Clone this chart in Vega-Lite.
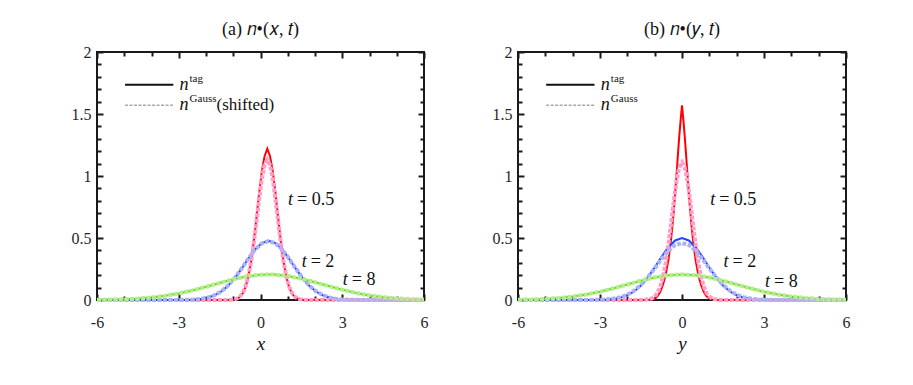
{
"$schema": "https://vega.github.io/schema/vega-lite/v6.json",
"padding": {"left": 70, "top": 20, "right": 5, "bottom": 5},
"spacing": 58,
"config": {"font": "Times New Roman, Liberation Serif, serif", "view": {"stroke": "#1a1a1a", "strokeWidth": 2},
 "title": {"font": "Times New Roman, Liberation Serif, serif", "fontWeight": "normal", "fontSize": 18, "color": "#111111", "offset": 5},
 "axis": {"labelFont": "Times New Roman, Liberation Serif, serif", "titleFont": "Times New Roman, Liberation Serif, serif"},
 "text": {"font": "Times New Roman, Liberation Serif, serif"}},
"datasets": {
"curves": [
{"p":"a","c":"r","x":-6,"y":0},{"p":"a","c":"r","x":-1.15,"y":0.001},{"p":"a","c":"r","x":-0.95,"y":0.005},{"p":"a","c":"r","x":-0.85,"y":0.012},{"p":"a","c":"r","x":-0.75,"y":0.026},{"p":"a","c":"r","x":-0.65,"y":0.054},{"p":"a","c":"r","x":-0.55,"y":0.103},{"p":"a","c":"r","x":-0.45,"y":0.184},{"p":"a","c":"r","x":-0.35,"y":0.304},{"p":"a","c":"r","x":-0.25,"y":0.465},{"p":"a","c":"r","x":-0.15,"y":0.658},{"p":"a","c":"r","x":-0.05,"y":0.862},{"p":"a","c":"r","x":0.05,"y":1.04},{"p":"a","c":"r","x":0.15,"y":1.16},{"p":"a","c":"r","x":0.25,"y":1.22},{"p":"a","c":"r","x":0.35,"y":1.16},{"p":"a","c":"r","x":0.45,"y":1.04},{"p":"a","c":"r","x":0.55,"y":0.862},{"p":"a","c":"r","x":0.65,"y":0.658},{"p":"a","c":"r","x":0.75,"y":0.465},{"p":"a","c":"r","x":0.85,"y":0.304},{"p":"a","c":"r","x":0.95,"y":0.184},{"p":"a","c":"r","x":1.05,"y":0.103},{"p":"a","c":"r","x":1.15,"y":0.054},{"p":"a","c":"r","x":1.25,"y":0.026},{"p":"a","c":"r","x":1.35,"y":0.012},{"p":"a","c":"r","x":1.45,"y":0.005},{"p":"a","c":"r","x":1.65,"y":0.001},{"p":"a","c":"r","x":6,"y":0},
{"p":"a","c":"R","x":-6,"y":0},{"p":"a","c":"R","x":-1.15,"y":0.0009},{"p":"a","c":"R","x":-0.95,"y":0.0059},{"p":"a","c":"R","x":-0.85,"y":0.0136},{"p":"a","c":"R","x":-0.75,"y":0.0293},{"p":"a","c":"R","x":-0.65,"y":0.0586},{"p":"a","c":"R","x":-0.55,"y":0.109},{"p":"a","c":"R","x":-0.45,"y":0.189},{"p":"a","c":"R","x":-0.35,"y":0.303},{"p":"a","c":"R","x":-0.25,"y":0.453},{"p":"a","c":"R","x":-0.15,"y":0.63},{"p":"a","c":"R","x":-0.05,"y":0.813},{"p":"a","c":"R","x":0.05,"y":0.976},{"p":"a","c":"R","x":0.15,"y":1.089},{"p":"a","c":"R","x":0.25,"y":1.13},{"p":"a","c":"R","x":0.35,"y":1.089},{"p":"a","c":"R","x":0.45,"y":0.976},{"p":"a","c":"R","x":0.55,"y":0.813},{"p":"a","c":"R","x":0.65,"y":0.63},{"p":"a","c":"R","x":0.75,"y":0.453},{"p":"a","c":"R","x":0.85,"y":0.303},{"p":"a","c":"R","x":0.95,"y":0.189},{"p":"a","c":"R","x":1.05,"y":0.109},{"p":"a","c":"R","x":1.15,"y":0.0586},{"p":"a","c":"R","x":1.25,"y":0.0293},{"p":"a","c":"R","x":1.35,"y":0.0136},{"p":"a","c":"R","x":1.45,"y":0.0059},{"p":"a","c":"R","x":1.65,"y":0.0009},{"p":"a","c":"R","x":6,"y":0},
{"p":"a","c":"b","x":-6,"y":0},{"p":"a","c":"b","x":-3.2,"y":0.0002},{"p":"a","c":"b","x":-2.7,"y":0.0014},{"p":"a","c":"b","x":-2.45,"y":0.0036},{"p":"a","c":"b","x":-2.2,"y":0.0084},{"p":"a","c":"b","x":-1.95,"y":0.0182},{"p":"a","c":"b","x":-1.7,"y":0.0361},{"p":"a","c":"b","x":-1.45,"y":0.0662},{"p":"a","c":"b","x":-1.2,"y":0.112},{"p":"a","c":"b","x":-0.95,"y":0.174},{"p":"a","c":"b","x":-0.7,"y":0.2505},{"p":"a","c":"b","x":-0.45,"y":0.3325},{"p":"a","c":"b","x":-0.2,"y":0.407},{"p":"a","c":"b","x":0.05,"y":0.459},{"p":"a","c":"b","x":0.3,"y":0.478},{"p":"a","c":"b","x":0.55,"y":0.459},{"p":"a","c":"b","x":0.8,"y":0.407},{"p":"a","c":"b","x":1.05,"y":0.3325},{"p":"a","c":"b","x":1.3,"y":0.2505},{"p":"a","c":"b","x":1.55,"y":0.174},{"p":"a","c":"b","x":1.8,"y":0.112},{"p":"a","c":"b","x":2.05,"y":0.0662},{"p":"a","c":"b","x":2.3,"y":0.0361},{"p":"a","c":"b","x":2.55,"y":0.0182},{"p":"a","c":"b","x":2.8,"y":0.0084},{"p":"a","c":"b","x":3.05,"y":0.0036},{"p":"a","c":"b","x":3.3,"y":0.0014},{"p":"a","c":"b","x":3.8,"y":0.0002},{"p":"a","c":"b","x":6,"y":0},
{"p":"a","c":"B","x":-6,"y":0},{"p":"a","c":"B","x":-3.2,"y":0.0002},{"p":"a","c":"B","x":-2.7,"y":0.0016},{"p":"a","c":"B","x":-2.45,"y":0.0039},{"p":"a","c":"B","x":-2.2,"y":0.0089},{"p":"a","c":"B","x":-1.95,"y":0.019},{"p":"a","c":"B","x":-1.7,"y":0.0375},{"p":"a","c":"B","x":-1.45,"y":0.068},{"p":"a","c":"B","x":-1.2,"y":0.114},{"p":"a","c":"B","x":-0.95,"y":0.176},{"p":"a","c":"B","x":-0.7,"y":0.252},{"p":"a","c":"B","x":-0.45,"y":0.333},{"p":"a","c":"B","x":-0.2,"y":0.406},{"p":"a","c":"B","x":0.05,"y":0.457},{"p":"a","c":"B","x":0.3,"y":0.475},{"p":"a","c":"B","x":0.55,"y":0.457},{"p":"a","c":"B","x":0.8,"y":0.406},{"p":"a","c":"B","x":1.05,"y":0.333},{"p":"a","c":"B","x":1.3,"y":0.252},{"p":"a","c":"B","x":1.55,"y":0.176},{"p":"a","c":"B","x":1.8,"y":0.114},{"p":"a","c":"B","x":2.05,"y":0.068},{"p":"a","c":"B","x":2.3,"y":0.0375},{"p":"a","c":"B","x":2.55,"y":0.019},{"p":"a","c":"B","x":2.8,"y":0.0089},{"p":"a","c":"B","x":3.05,"y":0.0039},{"p":"a","c":"B","x":3.3,"y":0.0016},{"p":"a","c":"B","x":3.8,"y":0.0002},{"p":"a","c":"B","x":6,"y":0},
{"p":"a","c":"g","x":-6,"y":0.0014},{"p":"a","c":"g","x":-5.5,"y":0.0031},{"p":"a","c":"g","x":-5,"y":0.0062},{"p":"a","c":"g","x":-4.5,"y":0.0116},{"p":"a","c":"g","x":-4,"y":0.0204},{"p":"a","c":"g","x":-3.5,"y":0.0339},{"p":"a","c":"g","x":-3,"y":0.0528},{"p":"a","c":"g","x":-2.5,"y":0.0773},{"p":"a","c":"g","x":-2,"y":0.1064},{"p":"a","c":"g","x":-1.5,"y":0.1374},{"p":"a","c":"g","x":-1,"y":0.1668},{"p":"a","c":"g","x":-0.5,"y":0.1902},{"p":"a","c":"g","x":0,"y":0.2037},{"p":"a","c":"g","x":0.3,"y":0.206},{"p":"a","c":"g","x":0.5,"y":0.205},{"p":"a","c":"g","x":1,"y":0.1938},{"p":"a","c":"g","x":1.5,"y":0.1721},{"p":"a","c":"g","x":2,"y":0.1435},{"p":"a","c":"g","x":2.5,"y":0.1125},{"p":"a","c":"g","x":3,"y":0.0828},{"p":"a","c":"g","x":3.5,"y":0.0573},{"p":"a","c":"g","x":4,"y":0.0372},{"p":"a","c":"g","x":4.5,"y":0.0227},{"p":"a","c":"g","x":5,"y":0.013},{"p":"a","c":"g","x":5.5,"y":0.007},{"p":"a","c":"g","x":6,"y":0.0035},
{"p":"a","c":"G","x":-6,"y":0.0014},{"p":"a","c":"G","x":-5.5,"y":0.0031},{"p":"a","c":"G","x":-5,"y":0.0062},{"p":"a","c":"G","x":-4.5,"y":0.0116},{"p":"a","c":"G","x":-4,"y":0.0204},{"p":"a","c":"G","x":-3.5,"y":0.0339},{"p":"a","c":"G","x":-3,"y":0.0528},{"p":"a","c":"G","x":-2.5,"y":0.0773},{"p":"a","c":"G","x":-2,"y":0.1064},{"p":"a","c":"G","x":-1.5,"y":0.1374},{"p":"a","c":"G","x":-1,"y":0.1668},{"p":"a","c":"G","x":-0.5,"y":0.1902},{"p":"a","c":"G","x":0,"y":0.2037},{"p":"a","c":"G","x":0.3,"y":0.206},{"p":"a","c":"G","x":0.5,"y":0.205},{"p":"a","c":"G","x":1,"y":0.1938},{"p":"a","c":"G","x":1.5,"y":0.1721},{"p":"a","c":"G","x":2,"y":0.1435},{"p":"a","c":"G","x":2.5,"y":0.1125},{"p":"a","c":"G","x":3,"y":0.0828},{"p":"a","c":"G","x":3.5,"y":0.0573},{"p":"a","c":"G","x":4,"y":0.0372},{"p":"a","c":"G","x":4.5,"y":0.0227},{"p":"a","c":"G","x":5,"y":0.013},{"p":"a","c":"G","x":5.5,"y":0.007},{"p":"a","c":"G","x":6,"y":0.0035},
{"p":"b","c":"r","x":-6,"y":0},{"p":"b","c":"r","x":-1.3,"y":0.001},{"p":"b","c":"r","x":-1.1,"y":0.005},{"p":"b","c":"r","x":-1,"y":0.013},{"p":"b","c":"r","x":-0.9,"y":0.03},{"p":"b","c":"r","x":-0.8,"y":0.065},{"p":"b","c":"r","x":-0.7,"y":0.12},{"p":"b","c":"r","x":-0.6,"y":0.2},{"p":"b","c":"r","x":-0.5,"y":0.32},{"p":"b","c":"r","x":-0.45,"y":0.4},{"p":"b","c":"r","x":-0.4,"y":0.49},{"p":"b","c":"r","x":-0.35,"y":0.6},{"p":"b","c":"r","x":-0.3,"y":0.72},{"p":"b","c":"r","x":-0.25,"y":0.86},{"p":"b","c":"r","x":-0.2,"y":1.01},{"p":"b","c":"r","x":-0.15,"y":1.17},{"p":"b","c":"r","x":-0.1,"y":1.32},{"p":"b","c":"r","x":-0.05,"y":1.45},{"p":"b","c":"r","x":0,"y":1.57},{"p":"b","c":"r","x":0.05,"y":1.45},{"p":"b","c":"r","x":0.1,"y":1.32},{"p":"b","c":"r","x":0.15,"y":1.17},{"p":"b","c":"r","x":0.2,"y":1.01},{"p":"b","c":"r","x":0.25,"y":0.86},{"p":"b","c":"r","x":0.3,"y":0.72},{"p":"b","c":"r","x":0.35,"y":0.6},{"p":"b","c":"r","x":0.4,"y":0.49},{"p":"b","c":"r","x":0.45,"y":0.4},{"p":"b","c":"r","x":0.5,"y":0.32},{"p":"b","c":"r","x":0.6,"y":0.2},{"p":"b","c":"r","x":0.7,"y":0.12},{"p":"b","c":"r","x":0.8,"y":0.065},{"p":"b","c":"r","x":0.9,"y":0.03},{"p":"b","c":"r","x":1,"y":0.013},{"p":"b","c":"r","x":1.1,"y":0.005},{"p":"b","c":"r","x":1.3,"y":0.001},{"p":"b","c":"r","x":6,"y":0},
{"p":"b","c":"R","x":-6,"y":0},{"p":"b","c":"R","x":-1.4,"y":0.0009},{"p":"b","c":"R","x":-1.2,"y":0.0058},{"p":"b","c":"R","x":-1.1,"y":0.0134},{"p":"b","c":"R","x":-1,"y":0.0288},{"p":"b","c":"R","x":-0.9,"y":0.0576},{"p":"b","c":"R","x":-0.8,"y":0.107},{"p":"b","c":"R","x":-0.7,"y":0.185},{"p":"b","c":"R","x":-0.6,"y":0.298},{"p":"b","c":"R","x":-0.5,"y":0.445},{"p":"b","c":"R","x":-0.4,"y":0.619},{"p":"b","c":"R","x":-0.3,"y":0.799},{"p":"b","c":"R","x":-0.2,"y":0.959},{"p":"b","c":"R","x":-0.1,"y":1.07},{"p":"b","c":"R","x":0,"y":1.11},{"p":"b","c":"R","x":0.1,"y":1.07},{"p":"b","c":"R","x":0.2,"y":0.959},{"p":"b","c":"R","x":0.3,"y":0.799},{"p":"b","c":"R","x":0.4,"y":0.619},{"p":"b","c":"R","x":0.5,"y":0.445},{"p":"b","c":"R","x":0.6,"y":0.298},{"p":"b","c":"R","x":0.7,"y":0.185},{"p":"b","c":"R","x":0.8,"y":0.107},{"p":"b","c":"R","x":0.9,"y":0.0576},{"p":"b","c":"R","x":1,"y":0.0288},{"p":"b","c":"R","x":1.1,"y":0.0134},{"p":"b","c":"R","x":1.2,"y":0.0058},{"p":"b","c":"R","x":1.4,"y":0.0009},{"p":"b","c":"R","x":6,"y":0},
{"p":"b","c":"b","x":-6,"y":0},{"p":"b","c":"b","x":-3.5,"y":0.0002},{"p":"b","c":"b","x":-3,"y":0.0015},{"p":"b","c":"b","x":-2.75,"y":0.0038},{"p":"b","c":"b","x":-2.5,"y":0.0088},{"p":"b","c":"b","x":-2.25,"y":0.019},{"p":"b","c":"b","x":-2,"y":0.0378},{"p":"b","c":"b","x":-1.75,"y":0.0692},{"p":"b","c":"b","x":-1.5,"y":0.117},{"p":"b","c":"b","x":-1.25,"y":0.182},{"p":"b","c":"b","x":-1,"y":0.262},{"p":"b","c":"b","x":-0.75,"y":0.348},{"p":"b","c":"b","x":-0.5,"y":0.426},{"p":"b","c":"b","x":-0.25,"y":0.48},{"p":"b","c":"b","x":0,"y":0.5},{"p":"b","c":"b","x":0.25,"y":0.48},{"p":"b","c":"b","x":0.5,"y":0.426},{"p":"b","c":"b","x":0.75,"y":0.348},{"p":"b","c":"b","x":1,"y":0.262},{"p":"b","c":"b","x":1.25,"y":0.182},{"p":"b","c":"b","x":1.5,"y":0.117},{"p":"b","c":"b","x":1.75,"y":0.0692},{"p":"b","c":"b","x":2,"y":0.0378},{"p":"b","c":"b","x":2.25,"y":0.019},{"p":"b","c":"b","x":2.5,"y":0.0088},{"p":"b","c":"b","x":2.75,"y":0.0038},{"p":"b","c":"b","x":3,"y":0.0015},{"p":"b","c":"b","x":3.5,"y":0.0002},{"p":"b","c":"b","x":6,"y":0},
{"p":"b","c":"B","x":-6,"y":0},{"p":"b","c":"B","x":-3.5,"y":0.0003},{"p":"b","c":"B","x":-3,"y":0.0023},{"p":"b","c":"B","x":-2.75,"y":0.0053},{"p":"b","c":"B","x":-2.5,"y":0.0115},{"p":"b","c":"B","x":-2.25,"y":0.0231},{"p":"b","c":"B","x":-2,"y":0.0433},{"p":"b","c":"B","x":-1.75,"y":0.0754},{"p":"b","c":"B","x":-1.5,"y":0.122},{"p":"b","c":"B","x":-1.25,"y":0.183},{"p":"b","c":"B","x":-1,"y":0.255},{"p":"b","c":"B","x":-0.75,"y":0.33},{"p":"b","c":"B","x":-0.5,"y":0.397},{"p":"b","c":"B","x":-0.25,"y":0.443},{"p":"b","c":"B","x":0,"y":0.46},{"p":"b","c":"B","x":0.25,"y":0.443},{"p":"b","c":"B","x":0.5,"y":0.397},{"p":"b","c":"B","x":0.75,"y":0.33},{"p":"b","c":"B","x":1,"y":0.255},{"p":"b","c":"B","x":1.25,"y":0.183},{"p":"b","c":"B","x":1.5,"y":0.122},{"p":"b","c":"B","x":1.75,"y":0.0754},{"p":"b","c":"B","x":2,"y":0.0433},{"p":"b","c":"B","x":2.25,"y":0.0231},{"p":"b","c":"B","x":2.5,"y":0.0115},{"p":"b","c":"B","x":2.75,"y":0.0053},{"p":"b","c":"B","x":3,"y":0.0023},{"p":"b","c":"B","x":3.5,"y":0.0003},{"p":"b","c":"B","x":6,"y":0},
{"p":"b","c":"g","x":-6,"y":0.0023},{"p":"b","c":"g","x":-5.5,"y":0.0047},{"p":"b","c":"g","x":-5,"y":0.009},{"p":"b","c":"g","x":-4.5,"y":0.0164},{"p":"b","c":"g","x":-4,"y":0.0279},{"p":"b","c":"g","x":-3.5,"y":0.0446},{"p":"b","c":"g","x":-3,"y":0.0669},{"p":"b","c":"g","x":-2.5,"y":0.0943},{"p":"b","c":"g","x":-2,"y":0.1249},{"p":"b","c":"g","x":-1.5,"y":0.1555},{"p":"b","c":"g","x":-1,"y":0.1818},{"p":"b","c":"g","x":-0.5,"y":0.1997},{"p":"b","c":"g","x":0,"y":0.206},{"p":"b","c":"g","x":0.5,"y":0.1997},{"p":"b","c":"g","x":1,"y":0.1818},{"p":"b","c":"g","x":1.5,"y":0.1555},{"p":"b","c":"g","x":2,"y":0.1249},{"p":"b","c":"g","x":2.5,"y":0.0943},{"p":"b","c":"g","x":3,"y":0.0669},{"p":"b","c":"g","x":3.5,"y":0.0446},{"p":"b","c":"g","x":4,"y":0.0279},{"p":"b","c":"g","x":4.5,"y":0.0164},{"p":"b","c":"g","x":5,"y":0.009},{"p":"b","c":"g","x":5.5,"y":0.0047},{"p":"b","c":"g","x":6,"y":0.0023},
{"p":"b","c":"G","x":-6,"y":0.0023},{"p":"b","c":"G","x":-5.5,"y":0.0047},{"p":"b","c":"G","x":-5,"y":0.009},{"p":"b","c":"G","x":-4.5,"y":0.0164},{"p":"b","c":"G","x":-4,"y":0.0279},{"p":"b","c":"G","x":-3.5,"y":0.0446},{"p":"b","c":"G","x":-3,"y":0.0669},{"p":"b","c":"G","x":-2.5,"y":0.0943},{"p":"b","c":"G","x":-2,"y":0.1249},{"p":"b","c":"G","x":-1.5,"y":0.1555},{"p":"b","c":"G","x":-1,"y":0.1818},{"p":"b","c":"G","x":-0.5,"y":0.1997},{"p":"b","c":"G","x":0,"y":0.206},{"p":"b","c":"G","x":0.5,"y":0.1997},{"p":"b","c":"G","x":1,"y":0.1818},{"p":"b","c":"G","x":1.5,"y":0.1555},{"p":"b","c":"G","x":2,"y":0.1249},{"p":"b","c":"G","x":2.5,"y":0.0943},{"p":"b","c":"G","x":3,"y":0.0669},{"p":"b","c":"G","x":3.5,"y":0.0446},{"p":"b","c":"G","x":4,"y":0.0279},{"p":"b","c":"G","x":4.5,"y":0.0164},{"p":"b","c":"G","x":5,"y":0.009},{"p":"b","c":"G","x":5.5,"y":0.0047},{"p":"b","c":"G","x":6,"y":0.0023}
],
"leg": [
{"k":"tag","x":-4.97,"y":1.735},{"k":"tag","x":-3.2,"y":1.735},
{"k":"gau","x":-4.97,"y":1.57},{"k":"gau","x":-3.2,"y":1.57}
],
"legt": [
{"p":"a","x":-2.97,"y":1.735,"sup":"tag","tail":""},
{"p":"a","x":-2.97,"y":1.57,"sup":"Gauss","tail":"(shifted)"},
{"p":"b","x":-2.97,"y":1.735,"sup":"tag","tail":""},
{"p":"b","x":-2.97,"y":1.57,"sup":"Gauss","tail":""}
],
"ann": [
{"p":"a","x":1.01,"y":0.805,"r":"= 0.5"},
{"p":"a","x":1.51,"y":0.308,"r":"= 2"},
{"p":"a","x":3.02,"y":0.161,"r":"= 8"},
{"p":"b","x":1.03,"y":0.805,"r":"= 0.5"},
{"p":"b","x":1.52,"y":0.308,"r":"= 2"},
{"p":"b","x":3.04,"y":0.147,"r":"= 8"}
]
},
"hconcat": [
{
"width": 327, "height": 248,
"title": {"text": "(a) 𝑛•(𝑥, 𝑡)"},
"resolve": {"axis": {"x": "independent", "y": "independent"}},
"layer": [
{"data": {"name": "curves"}, "transform": [{"filter": "datum.p == 'a'"}, {"filter": {"field": "c", "oneOf": ["r", "b", "g"]}}],
 "mark": {"type": "line", "strokeWidth": 2},
 "encoding": {
  "x": {"field": "x", "type": "quantitative", "scale": {"domain": [-6, 6], "nice": false, "zero": false},
   "axis": {"orient": "bottom", "values": [-6,-5,-4,-3,-2,-1,0,1,2,3,4,5,6], "labelExpr": "datum.value % 3 === 0 ? '' + datum.value : ''", "labelFlush": false, "labelOverlap": false, "labelFontSize": 16, "labelColor": "#262626", "labelPadding": 20, "domain": false, "grid": false, "tickColor": "#1a1a1a", "tickWidth": 2, "tickSize": {"condition": {"test": "datum.value % 3 === 0", "value": -6}, "value": -4}, "title": "x", "titleFontSize": 19, "titleFontStyle": "italic", "titleFontWeight": "normal", "titleColor": "#111111", "titlePadding": 2}},
  "y": {"field": "y", "type": "quantitative", "scale": {"domain": [0, 2], "nice": false},
   "axis": {"orient": "left", "values": [0,0.1,0.2,0.3,0.4,0.5,0.6,0.7,0.8,0.9,1,1.1,1.2,1.3,1.4,1.5,1.6,1.7,1.8,1.9,2], "labelExpr": "abs(datum.value*2 - round(datum.value*2)) < 0.001 ? '' + datum.value : ''", "labelOverlap": false, "labelFontSize": 16, "labelColor": "#262626", "labelPadding": 12, "domain": false, "grid": false, "tickColor": "#1a1a1a", "tickWidth": 2, "tickSize": {"condition": {"test": "abs(datum.value*2 - round(datum.value*2)) < 0.001", "value": -6}, "value": -4}, "title": null}},
  "color": {"field": "c", "type": "nominal", "scale": {"domain": ["r","b","g","R","B","G"], "range": ["#ff0000","#2343ff","#5ed41c","#ff9dcd","#a9b3f7","#b4ee88"]}, "legend": null}
 }},
{"data": {"name": "curves"}, "transform": [{"filter": "datum.p == 'a'"}, {"filter": {"field": "c", "oneOf": ["R", "B", "G"]}}],
 "mark": {"type": "line", "strokeWidth": 4, "strokeDash": [4, 1.5]},
 "encoding": {
  "x": {"field": "x", "type": "quantitative", "scale": {"domain": [-6, 6], "nice": false, "zero": false},
   "axis": {"orient": "top", "values": [-6,-5,-4,-3,-2,-1,0,1,2,3,4,5,6], "labels": false, "domain": false, "grid": false, "tickColor": "#1a1a1a", "tickWidth": 2, "tickSize": {"condition": {"test": "datum.value % 3 === 0", "value": -6}, "value": -4}, "title": null}},
  "y": {"field": "y", "type": "quantitative", "scale": {"domain": [0, 2], "nice": false},
   "axis": {"orient": "right", "values": [0,0.1,0.2,0.3,0.4,0.5,0.6,0.7,0.8,0.9,1,1.1,1.2,1.3,1.4,1.5,1.6,1.7,1.8,1.9,2], "labels": false, "domain": false, "grid": false, "tickColor": "#1a1a1a", "tickWidth": 2, "tickSize": {"condition": {"test": "abs(datum.value*2 - round(datum.value*2)) < 0.001", "value": -6}, "value": -4}, "title": null}},
  "color": {"field": "c", "type": "nominal", "scale": {"domain": ["r","b","g","R","B","G"], "range": ["#ff0000","#2343ff","#5ed41c","#ff9dcd","#a9b3f7","#b4ee88"]}, "legend": null}
 }},
{"data": {"name": "leg"}, "transform": [{"filter": "datum.k == 'tag'"}],
 "mark": {"type": "line", "color": "#111111", "strokeWidth": 2},
 "encoding": {"x": {"field": "x", "type": "quantitative", "axis": null}, "y": {"field": "y", "type": "quantitative", "axis": null}}},
{"data": {"name": "leg"}, "transform": [{"filter": "datum.k == 'gau'"}],
 "mark": {"type": "line", "color": "#a8a8a8", "strokeWidth": 1.5, "strokeDash": [3, 1.5]},
 "encoding": {"x": {"field": "x", "type": "quantitative", "axis": null}, "y": {"field": "y", "type": "quantitative", "axis": null}}},
{"data": {"name": "legt"}, "transform": [{"filter": "datum.p == 'a'"}],
 "mark": {"type": "text", "text": "n", "fontStyle": "italic", "fontSize": 18, "align": "left", "baseline": "middle", "color": "#111111"},
 "encoding": {"x": {"field": "x", "type": "quantitative", "axis": null}, "y": {"field": "y", "type": "quantitative", "axis": null}}},
{"data": {"name": "legt"}, "transform": [{"filter": "datum.p == 'a'"}],
 "mark": {"type": "text", "fontSize": 11, "align": "left", "baseline": "middle", "dx": 10, "dy": -6, "color": "#111111"},
 "encoding": {"x": {"field": "x", "type": "quantitative", "axis": null}, "y": {"field": "y", "type": "quantitative", "axis": null}, "text": {"field": "sup"}}},
{"data": {"name": "legt"}, "transform": [{"filter": "datum.p == 'a'"}],
 "mark": {"type": "text", "fontSize": 17, "align": "left", "baseline": "middle", "dx": 37, "color": "#111111"},
 "encoding": {"x": {"field": "x", "type": "quantitative", "axis": null}, "y": {"field": "y", "type": "quantitative", "axis": null}, "text": {"field": "tail"}}},
{"data": {"name": "ann"}, "transform": [{"filter": "datum.p == 'a'"}],
 "mark": {"type": "text", "text": "t", "fontStyle": "italic", "fontSize": 18, "align": "left", "baseline": "middle", "color": "#111111"},
 "encoding": {"x": {"field": "x", "type": "quantitative", "axis": null}, "y": {"field": "y", "type": "quantitative", "axis": null}}},
{"data": {"name": "ann"}, "transform": [{"filter": "datum.p == 'a'"}],
 "mark": {"type": "text", "fontSize": 18, "align": "left", "baseline": "middle", "dx": 9, "color": "#111111"},
 "encoding": {"x": {"field": "x", "type": "quantitative", "axis": null}, "y": {"field": "y", "type": "quantitative", "axis": null}, "text": {"field": "r"}}}
]
},
{
"width": 328, "height": 248,
"title": {"text": "(b) 𝑛•(𝑦, 𝑡)"},
"resolve": {"axis": {"x": "independent", "y": "independent"}},
"layer": [
{"data": {"name": "curves"}, "transform": [{"filter": "datum.p == 'b'"}, {"filter": {"field": "c", "oneOf": ["r", "b", "g"]}}],
 "mark": {"type": "line", "strokeWidth": 2},
 "encoding": {
  "x": {"field": "x", "type": "quantitative", "scale": {"domain": [-6, 6], "nice": false, "zero": false},
   "axis": {"orient": "bottom", "values": [-6,-5,-4,-3,-2,-1,0,1,2,3,4,5,6], "labelExpr": "datum.value % 3 === 0 ? '' + datum.value : ''", "labelFlush": false, "labelOverlap": false, "labelFontSize": 16, "labelColor": "#262626", "labelPadding": 20, "domain": false, "grid": false, "tickColor": "#1a1a1a", "tickWidth": 2, "tickSize": {"condition": {"test": "datum.value % 3 === 0", "value": -6}, "value": -4}, "title": "y", "titleFontSize": 19, "titleFontStyle": "italic", "titleFontWeight": "normal", "titleColor": "#111111", "titlePadding": 2}},
  "y": {"field": "y", "type": "quantitative", "scale": {"domain": [0, 2], "nice": false},
   "axis": {"orient": "left", "values": [0,0.1,0.2,0.3,0.4,0.5,0.6,0.7,0.8,0.9,1,1.1,1.2,1.3,1.4,1.5,1.6,1.7,1.8,1.9,2], "labelExpr": "abs(datum.value*2 - round(datum.value*2)) < 0.001 ? '' + datum.value : ''", "labelOverlap": false, "labelFontSize": 16, "labelColor": "#262626", "labelPadding": 12, "domain": false, "grid": false, "tickColor": "#1a1a1a", "tickWidth": 2, "tickSize": {"condition": {"test": "abs(datum.value*2 - round(datum.value*2)) < 0.001", "value": -6}, "value": -4}, "title": null}},
  "color": {"field": "c", "type": "nominal", "scale": {"domain": ["r","b","g","R","B","G"], "range": ["#ff0000","#2343ff","#5ed41c","#ff9dcd","#a9b3f7","#b4ee88"]}, "legend": null}
 }},
{"data": {"name": "curves"}, "transform": [{"filter": "datum.p == 'b'"}, {"filter": {"field": "c", "oneOf": ["R", "B", "G"]}}],
 "mark": {"type": "line", "strokeWidth": 4, "strokeDash": [4, 1.5]},
 "encoding": {
  "x": {"field": "x", "type": "quantitative", "scale": {"domain": [-6, 6], "nice": false, "zero": false},
   "axis": {"orient": "top", "values": [-6,-5,-4,-3,-2,-1,0,1,2,3,4,5,6], "labels": false, "domain": false, "grid": false, "tickColor": "#1a1a1a", "tickWidth": 2, "tickSize": {"condition": {"test": "datum.value % 3 === 0", "value": -6}, "value": -4}, "title": null}},
  "y": {"field": "y", "type": "quantitative", "scale": {"domain": [0, 2], "nice": false},
   "axis": {"orient": "right", "values": [0,0.1,0.2,0.3,0.4,0.5,0.6,0.7,0.8,0.9,1,1.1,1.2,1.3,1.4,1.5,1.6,1.7,1.8,1.9,2], "labels": false, "domain": false, "grid": false, "tickColor": "#1a1a1a", "tickWidth": 2, "tickSize": {"condition": {"test": "abs(datum.value*2 - round(datum.value*2)) < 0.001", "value": -6}, "value": -4}, "title": null}},
  "color": {"field": "c", "type": "nominal", "scale": {"domain": ["r","b","g","R","B","G"], "range": ["#ff0000","#2343ff","#5ed41c","#ff9dcd","#a9b3f7","#b4ee88"]}, "legend": null}
 }},
{"data": {"name": "leg"}, "transform": [{"filter": "datum.k == 'tag'"}],
 "mark": {"type": "line", "color": "#111111", "strokeWidth": 2},
 "encoding": {"x": {"field": "x", "type": "quantitative", "axis": null}, "y": {"field": "y", "type": "quantitative", "axis": null}}},
{"data": {"name": "leg"}, "transform": [{"filter": "datum.k == 'gau'"}],
 "mark": {"type": "line", "color": "#a8a8a8", "strokeWidth": 1.5, "strokeDash": [3, 1.5]},
 "encoding": {"x": {"field": "x", "type": "quantitative", "axis": null}, "y": {"field": "y", "type": "quantitative", "axis": null}}},
{"data": {"name": "legt"}, "transform": [{"filter": "datum.p == 'b'"}],
 "mark": {"type": "text", "text": "n", "fontStyle": "italic", "fontSize": 18, "align": "left", "baseline": "middle", "color": "#111111"},
 "encoding": {"x": {"field": "x", "type": "quantitative", "axis": null}, "y": {"field": "y", "type": "quantitative", "axis": null}}},
{"data": {"name": "legt"}, "transform": [{"filter": "datum.p == 'b'"}],
 "mark": {"type": "text", "fontSize": 11, "align": "left", "baseline": "middle", "dx": 10, "dy": -6, "color": "#111111"},
 "encoding": {"x": {"field": "x", "type": "quantitative", "axis": null}, "y": {"field": "y", "type": "quantitative", "axis": null}, "text": {"field": "sup"}}},
{"data": {"name": "ann"}, "transform": [{"filter": "datum.p == 'b'"}],
 "mark": {"type": "text", "text": "t", "fontStyle": "italic", "fontSize": 18, "align": "left", "baseline": "middle", "color": "#111111"},
 "encoding": {"x": {"field": "x", "type": "quantitative", "axis": null}, "y": {"field": "y", "type": "quantitative", "axis": null}}},
{"data": {"name": "ann"}, "transform": [{"filter": "datum.p == 'b'"}],
 "mark": {"type": "text", "fontSize": 18, "align": "left", "baseline": "middle", "dx": 9, "color": "#111111"},
 "encoding": {"x": {"field": "x", "type": "quantitative", "axis": null}, "y": {"field": "y", "type": "quantitative", "axis": null}, "text": {"field": "r"}}}
]
}
]
}
